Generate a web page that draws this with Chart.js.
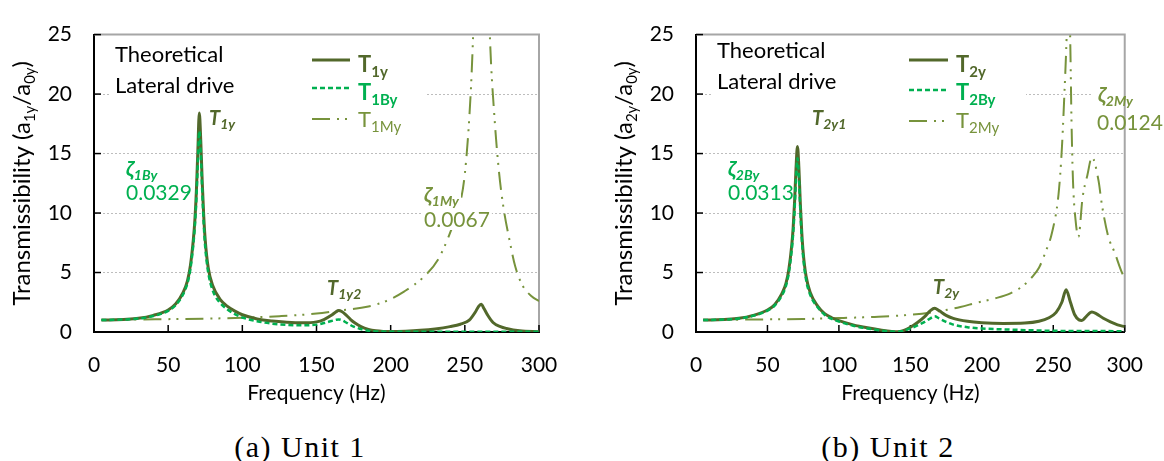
<!DOCTYPE html>
<html><head><meta charset="utf-8">
<script src="https://cdn.jsdelivr.net/npm/chart.js@4.4.1/dist/chart.umd.min.js"></script>
<style>
html,body{margin:0;padding:0;background:#fff;}
#wrap{position:relative;width:1164px;height:461px;overflow:hidden;background:#fff;}
canvas{position:absolute;top:0;}
.cap{position:absolute;top:431px;font-family:"Liberation Serif",serif;font-size:30px;line-height:32px;letter-spacing:1.5px;white-space:nowrap;transform:translateX(-50%);color:#000;}
</style></head><body>
<div id="wrap">
<canvas id="c1" width="582" height="420" style="left:0"></canvas>
<canvas id="c2" width="582" height="420" style="left:582px"></canvas>
<div class="cap" style="left:300px">(a) Unit 1</div>
<div class="cap" style="left:888px">(b) Unit 2</div>
</div>
<script>
// ---------- DATA ----------
const xMin = 0, xMax = 300, xStep = 50;
const yMin = 0, yMax = 25, yStep = 5;

// Unit 1
const fT1y = [5,10,20,30,40,50,55,60,63,65,67,68,69,70,71,72,73,74,75,77,80,85,90,95,100,110,120,130,140,150,155,160,163,165,167,170,173,176,180,185,190,195,200,210,220,230,240,247,253,257,259,261,263,265,269,274,278,287,300];
const vT1y = [1.0,1.01,1.06,1.15,1.4,1.85,2.35,3.3,4.3,5.6,7.8,9.4,11.8,15.2,18.4,16.0,12.5,9.7,7.7,5.4,3.9,2.75,2.15,1.75,1.45,1.1,0.92,0.82,0.77,0.85,1.05,1.4,1.68,1.8,1.72,1.42,1.05,0.75,0.45,0.22,0.1,0.05,0.04,0.07,0.14,0.26,0.45,0.65,1.0,1.66,2.1,2.34,1.95,1.5,0.8,0.45,0.3,0.1,0.03];
const fT1By = [5,20,30,40,50,55,60,63,65,67,68,69,70,71,72,73,74,75,77,80,85,90,95,100,110,120,130,140,150,155,160,163,165,167,170,175,180,185,190,200,250,300];
const vT1By = [1.0,1.05,1.13,1.35,1.78,2.25,3.15,4.1,5.3,7.4,8.9,11.1,14.2,16.9,15.0,11.7,9.0,7.1,5.0,3.5,2.45,1.9,1.5,1.22,0.9,0.7,0.6,0.56,0.62,0.75,0.92,1.02,1.06,1.0,0.8,0.45,0.25,0.1,0.05,0.03,0.02,0.02];
const fT1My = [5,25,50,75,100,125,150,165,185,197,209,222,232,239,244,247,250,253,255,257,259,261,263,265,267,270,273,276,280,284,289,295,300];
const vT1My = [1.0,1.04,1.08,1.12,1.2,1.33,1.55,1.8,2.15,2.6,3.4,4.6,6.1,8.0,9.7,10.9,13.3,18,23,31,45,60,46,33,24.5,18,13.5,10.5,7.8,5.5,3.9,3.0,2.6];

// Unit 2
const fT2y = [5,10,20,30,40,50,55,60,63,65,67,68,69,70,71,72,73,74,75,77,80,85,90,95,100,110,120,130,137,141,145,150,155,160,164,167,170,175,180,190,200,215,230,240,247,252,256,259,262,265,268,270,273,277,280,285,290,295,300];
const vT2y = [1.0,1.01,1.06,1.15,1.4,1.85,2.3,3.2,4.1,5.3,7.3,8.8,11.0,13.8,15.6,13.8,10.8,8.4,6.7,4.7,3.3,2.2,1.55,1.2,0.95,0.6,0.35,0.15,0.05,0.03,0.12,0.4,0.8,1.3,1.8,2.0,1.8,1.4,1.15,0.9,0.78,0.72,0.75,0.9,1.2,1.65,2.5,3.55,2.5,1.45,1.02,0.97,1.3,1.68,1.55,1.15,0.85,0.6,0.45];
const fT2By = [5,20,30,40,50,55,60,63,65,67,68,69,70,71,72,73,74,75,77,80,85,90,95,100,110,120,130,137,141,145,150,155,160,164,167,170,175,180,190,200,220,250,300];
const vT2By = [1.0,1.05,1.13,1.36,1.8,2.22,3.05,3.9,5.0,6.9,8.3,10.3,12.9,14.6,13.0,10.2,7.9,6.3,4.4,3.1,2.1,1.45,1.1,0.88,0.52,0.3,0.12,0.04,0.02,0.1,0.3,0.55,0.85,1.15,1.32,1.15,0.85,0.62,0.4,0.3,0.2,0.1,0.07];
const fT2My = [5,25,50,75,100,125,150,170,185,196,210,220,228,235,240,244.5,249,253.7,256,257.6,259.4,260.5,261.2,262,262.7,263.8,265.6,267.6,270.5,273.9,277,281.7,283.9,288.4,292.9,298.4,300];
const vT2My = [1.0,1.03,1.06,1.1,1.17,1.27,1.45,1.75,2.1,2.45,2.85,3.25,3.8,4.6,5.4,6.7,8.3,11.6,15.4,19.5,25,30,28,23.6,18.1,12.7,9.4,8.0,11.3,13.2,14.7,12.7,10.8,8.06,6.7,4.9,4.6];

// ---------- STYLE ----------
const FONT = 'Lato, "Noto Sans", sans-serif';
const R = s => `${s}px ${FONT}`;
const B = s => `bold ${s}px ${FONT}`;
const BI = s => `italic bold ${s}px ${FONT}`;
const C_SOLID = '#52682b', C_GREEN = '#00b050', C_MY = '#77933c';
const DASH_B = [5,3], DASH_M = [18,7,2,6,2,7];

function drawParts(ctx, x, y, parts, color, bg) {
  let w = 0;
  parts.forEach(p => { ctx.font = p.font; p._w = ctx.measureText(p.t).width; w += p._w; });
  if (bg) { ctx.fillStyle = '#fff'; ctx.fillRect(x - 2, y - bg[0], w + 4, bg[0] + bg[1]); }
  ctx.fillStyle = color; ctx.textAlign = 'left'; ctx.textBaseline = 'alphabetic';
  let cx = x;
  parts.forEach(p => { ctx.font = p.font; ctx.fillText(p.t, cx, y + (p.dy || 0)); cx += p._w; });
  return w;
}

function deco(spec, off) {
  return {
    id: 'deco' + off,
    beforeDatasetsDraw(chart) {
      const {ctx, chartArea: a, scales} = chart;
      ctx.save();
      ctx.fillStyle = '#fff';
      spec.boxes.forEach(b => ctx.fillRect(b[0] - off, b[1], b[2], b[3]));
      ctx.setLineDash([]);
      ctx.strokeStyle = '#a6a6a6'; ctx.lineWidth = 2;
      ctx.beginPath(); ctx.moveTo(a.left, a.top); ctx.lineTo(a.right, a.top); ctx.lineTo(a.right, a.bottom); ctx.stroke();
      ctx.strokeStyle = '#000'; ctx.lineWidth = 1.5;
      scales.x.ticks.forEach(t => {
        if (t.value <= xMin) return;
        const px = scales.x.getPixelForValue(t.value);
        ctx.beginPath(); ctx.moveTo(px, a.bottom); ctx.lineTo(px, a.bottom - 7); ctx.stroke();
      });
      scales.y.ticks.forEach(t => {
        if (t.value <= yMin) return;
        const py = scales.y.getPixelForValue(t.value);
        ctx.beginPath(); ctx.moveTo(a.left, py); ctx.lineTo(a.left + 7, py); ctx.stroke();
      });
      ctx.restore();
    },
    afterDatasetsDraw(chart) {
      const {ctx, chartArea: a} = chart;
      ctx.save();
      // y title
      ctx.save();
      ctx.translate(a.left - 64, (a.top + a.bottom) / 2);
      ctx.rotate(-Math.PI / 2);
      const yt = [
        {t: 'Transmissibility (a', font: R(24)}, {t: spec.unit + 'y', font: R(15), dy: 5},
        {t: '/a', font: R(24)}, {t: '0y', font: R(15), dy: 5}, {t: ')', font: R(24)}];
      let w = 0; yt.forEach(p => { ctx.font = p.font; w += ctx.measureText(p.t).width; });
      drawParts(ctx, -w / 2, 0, yt, '#000');
      ctx.restore();
      // title text
      spec.texts.forEach(t => drawParts(ctx, t[0] - off, t[1], [{t: t[2], font: R(22)}], '#000'));
      // legend
      const L = spec.legend;
      L.items.forEach(it => {
        ctx.strokeStyle = it.color; ctx.lineWidth = it.width; ctx.setLineDash(it.dash); ctx.lineCap = 'butt';
        ctx.beginPath(); ctx.moveTo(L.x1 - off, it.ly); ctx.lineTo(L.x2 - off, it.ly); ctx.stroke();
        ctx.setLineDash([]);
        drawParts(ctx, L.tx - off, it.tb, [{t: 'T', font: it.bold ? B(22) : R(22)}, {t: it.sub, font: it.bold ? B(15) : R(15), dy: 5}], it.color);
      });
      // annotations
      spec.notes.forEach(n => drawParts(ctx, n.x - off, n.y, n.parts, n.color, n.bg));
      ctx.restore();
    }
  };
}

function buildChart(id, off, spec) {
  const ctx = document.getElementById(id).getContext('2d');
  const ds = spec.series.map(s => ({
    label: s.label,
    data: s.f.map((fx, i) => ({x: fx, y: s.v[i]})),
    borderColor: s.color, borderWidth: s.width, borderDash: s.dash,
    borderCapStyle: 'butt', borderJoinStyle: 'round',
    pointRadius: 0, fill: false, cubicInterpolationMode: 'monotone', order: s.order
  }));
  return new Chart(ctx, {
    type: 'line',
    data: {datasets: ds},
    options: {
      responsive: false, animation: false, devicePixelRatio: 1,
      layout: {padding: {top: 26, right: spec.padRight, left: 0, bottom: 0}},
      plugins: {legend: {display: false}, tooltip: {enabled: false}},
      scales: {
        x: {
          type: 'linear', min: xMin, max: xMax,
          ticks: {stepSize: xStep, font: {family: FONT, size: 21}, color: '#000', padding: 21, maxRotation: 0},
          grid: {display: false, drawTicks: false},
          border: {color: '#000', width: 2},
          title: {display: true, text: 'Frequency (Hz)', font: {family: FONT, size: 21}, color: '#000', padding: {top: 0, bottom: 14}},
          afterFit: s => { s.height = 88; }
        },
        y: {
          type: 'linear', min: yMin, max: yMax,
          ticks: {stepSize: yStep, font: {family: FONT, size: 21}, color: '#000', padding: 22},
          grid: {color: c => (c.tick && c.tick.value > yMin && c.tick.value < yMax) ? '#bdbdbd' : 'rgba(0,0,0,0)', lineWidth: 1, drawTicks: false},
          border: {color: '#000', width: 2, dash: [2, 2]},
          afterFit: s => { s.width = spec.yWidth; }
        }
      }
    },
    plugins: [deco(spec, off)]
  });
}

const sub = (main, s, size) => [{t: main, font: BI(size)}, {t: s, font: BI(Math.round(size * 0.68)), dy: 4}];

buildChart('c1', 0, {
  unit: '1', yWidth: 94, padRight: 43,
  series: [
    {label: 'T1y', f: fT1y, v: vT1y, color: C_SOLID, width: 3, dash: [], order: 1},
    {label: 'T1By', f: fT1By, v: vT1By, color: C_GREEN, width: 2.5, dash: DASH_B, order: 0},
    {label: 'T1My', f: fT1My, v: vT1My, color: C_MY, width: 2, dash: DASH_M, order: 2}
  ],
  boxes: [[110, 38, 130, 64], [240, 40, 186, 96]],
  texts: [[115, 62, 'Theoretical'], [115, 93, 'Lateral drive']],
  legend: {x1: 312, x2: 350, tx: 358, items: [
    {ly: 60, tb: 72, color: C_SOLID, width: 3, dash: [], sub: '1y', bold: true},
    {ly: 88, tb: 100, color: C_GREEN, width: 2.5, dash: DASH_B, sub: '1By', bold: true},
    {ly: 119, tb: 127, color: C_MY, width: 2, dash: DASH_M, sub: '1My', bold: false}]},
  notes: [
    {x: 209, y: 125, parts: sub('T', '1y', 20), color: C_SOLID},
    {x: 126, y: 176, parts: sub('ζ', '1By', 21), color: C_GREEN},
    {x: 126, y: 200, parts: [{t: '0.0329', font: R(21)}], color: C_GREEN},
    {x: 424, y: 202, parts: sub('ζ', '1My', 21), color: C_MY, bg: [16, 7]},
    {x: 424, y: 227, parts: [{t: '0.0067', font: R(21)}], color: C_MY, bg: [16, 3]},
    {x: 327, y: 295, parts: sub('T', '1y2', 20), color: C_SOLID}
  ]
});

buildChart('c2', 582, {
  unit: '2', yWidth: 114, padRight: 20,
  series: [
    {label: 'T2y', f: fT2y, v: vT2y, color: C_SOLID, width: 3, dash: [], order: 1},
    {label: 'T2By', f: fT2By, v: vT2By, color: C_GREEN, width: 2.5, dash: DASH_B, order: 0},
    {label: 'T2My', f: fT2My, v: vT2My, color: C_MY, width: 2, dash: DASH_M, order: 2}
  ],
  boxes: [[712, 36, 128, 66], [840, 40, 186, 96], [1093, 82, 67, 53]],
  texts: [[717, 58, 'Theoretical'], [717, 89, 'Lateral drive']],
  legend: {x1: 909, x2: 948, tx: 956, items: [
    {ly: 60, tb: 72, color: C_SOLID, width: 3, dash: [], sub: '2y', bold: true},
    {ly: 90, tb: 100, color: C_GREEN, width: 2.5, dash: DASH_B, sub: '2By', bold: true},
    {ly: 121, tb: 128, color: C_MY, width: 2, dash: DASH_M, sub: '2My', bold: false}]},
  notes: [
    {x: 812, y: 125, parts: sub('T', '2y1', 20), color: C_SOLID},
    {x: 728, y: 176, parts: sub('ζ', '2By', 21), color: C_GREEN},
    {x: 728, y: 200, parts: [{t: '0.0313', font: R(21)}], color: C_GREEN},
    {x: 933, y: 294, parts: sub('T', '2y', 20), color: C_SOLID},
    {x: 1098, y: 102, parts: sub('ζ', '2My', 21), color: C_MY},
    {x: 1097, y: 130, parts: [{t: '0.0124', font: R(21)}], color: C_MY}
  ]
});
</script>
</body></html>
